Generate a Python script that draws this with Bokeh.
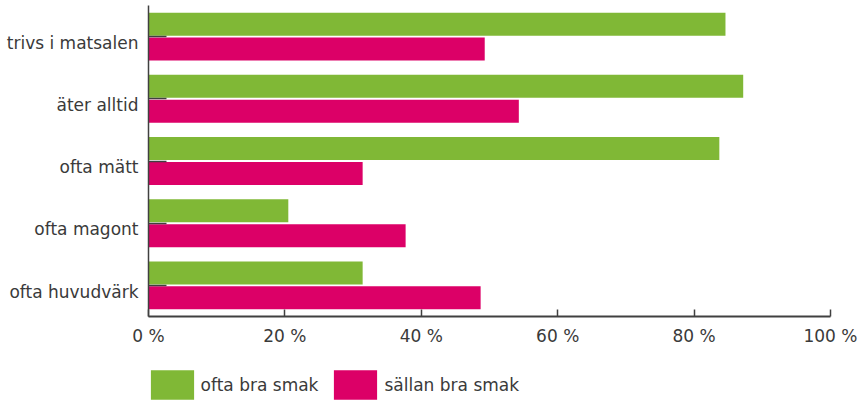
from bokeh.plotting import figure
from bokeh.layouts import column
from bokeh.models import (ColumnDataSource, Range1d, FixedTicker, Legend, LegendItem,
                          LinearAxis)
from bokeh.transform import dodge
from bokeh.embed import file_html
from bokeh.resources import INLINE

categories = ["trivs i matsalen", "äter alltid", "ofta mätt", "ofta magont", "ofta huvudvärk"]
ofta_bra_smak = [84.6, 87.2, 83.7, 20.5, 31.4]
sallan_bra_smak = [49.3, 54.3, 31.4, 37.7, 48.7]
series_names = ["ofta bra smak", "sällan bra smak"]
x_ticks = [0, 20, 40, 60, 80, 100]
x_tick_labels = ["0 %", "20 %", "40 %", "60 %", "80 %", "100 %"]

GREEN = "#80b836"
MAGENTA = "#dc0067"
TEXT = "#3a3a3a"
AXIS = "#404040"
FONT = "DejaVu Sans"
FS = "17px"

n = len(categories)
ypos = [n - 0.5 - i for i in range(n)]  # first category at the top
source = ColumnDataSource(dict(y=ypos, cat=categories, a=ofta_bra_smak, b=sallan_bra_smak))

p = figure(
    width=862, height=356,
    y_range=Range1d(0, n),
    x_range=Range1d(0, 100),
    output_backend="svg", toolbar_location=None,
    min_border_left=148, min_border_right=32, min_border_top=5, min_border_bottom=40,
)
p.outline_line_color = None
p.xgrid.visible = False
p.ygrid.visible = False

p.hbar(y=dodge("y", 0.2), left=0, right="a", height=0.37,
       source=source, fill_color=GREEN, line_color=None)
p.hbar(y=dodge("y", -0.2), left=0, right="b", height=0.37,
       source=source, fill_color=MAGENTA, line_color=None)

# x axis
xa = p.xaxis[0]
xa.ticker = FixedTicker(ticks=x_ticks)
xa.major_label_overrides = {t: l for t, l in zip(x_ticks, x_tick_labels)}
xa.minor_tick_line_color = None
xa.major_tick_in = 7
xa.major_tick_out = 0
xa.axis_line_color = AXIS
xa.axis_line_width = 2
xa.major_tick_line_color = AXIS
xa.major_tick_line_width = 1.5
xa.major_label_standoff = 9
xa.major_label_text_font = FONT
xa.major_label_text_font_size = FS
xa.major_label_text_color = TEXT

# y axis: line + inward ticks at category centres (labels not drawn)
ya = p.yaxis[0]
ya.ticker = FixedTicker(ticks=ypos)
ya.major_tick_in = 18
ya.major_tick_out = 0
ya.minor_tick_line_color = None
ya.axis_line_color = AXIS
ya.axis_line_width = 1.5
ya.major_tick_line_color = AXIS
ya.major_tick_line_width = 1.5
ya.major_label_standoff = 0
ya.major_label_text_font_size = "1px"
ya.major_label_text_color = None

# category labels, sitting slightly below the tick as in the original
p.extra_y_ranges = {"labels": Range1d(0.1, n + 0.1)}
la = LinearAxis(y_range_name="labels", ticker=FixedTicker(ticks=ypos),
                major_label_overrides={v: c for v, c in zip(ypos, categories)},
                axis_line_color=None, major_tick_line_color=None, minor_tick_line_color=None,
                major_tick_in=0, major_tick_out=0, major_label_standoff=10,
                major_label_text_font=FONT, major_label_text_font_size=FS,
                major_label_text_color=TEXT)
p.add_layout(la, "left")

# legend strip
lg = figure(
    width=862, height=44, x_range=Range1d(0, 1), y_range=Range1d(0, 1),
    x_axis_type=None, y_axis_type=None,
    output_backend="svg", toolbar_location=None,
    min_border_left=0, min_border_right=0, min_border_top=0, min_border_bottom=0,
)
lg.outline_line_color = None
lg.xgrid.visible = False
lg.ygrid.visible = False
k1 = lg.hbar(y=[0], left=[0], right=[0], height=0, fill_color=GREEN, line_color=None)
k2 = lg.hbar(y=[0], left=[0], right=[0], height=0, fill_color=MAGENTA, line_color=None)

legend = Legend(
    items=[LegendItem(label=series_names[0], renderers=[k1]),
           LegendItem(label=series_names[1], renderers=[k2])],
    orientation="horizontal",
    location=(-3.4, -3),
    glyph_width=54, glyph_height=37,
    label_standoff=2, spacing=10,
    padding=0, margin=0,
    border_line_color=None, background_fill_color=None,
    label_text_font=FONT, label_text_font_size=FS, label_text_color=TEXT,
)
lg.add_layout(legend, "center")

open("out.html", "w").write(file_html(column(p, lg, spacing=0), INLINE))
